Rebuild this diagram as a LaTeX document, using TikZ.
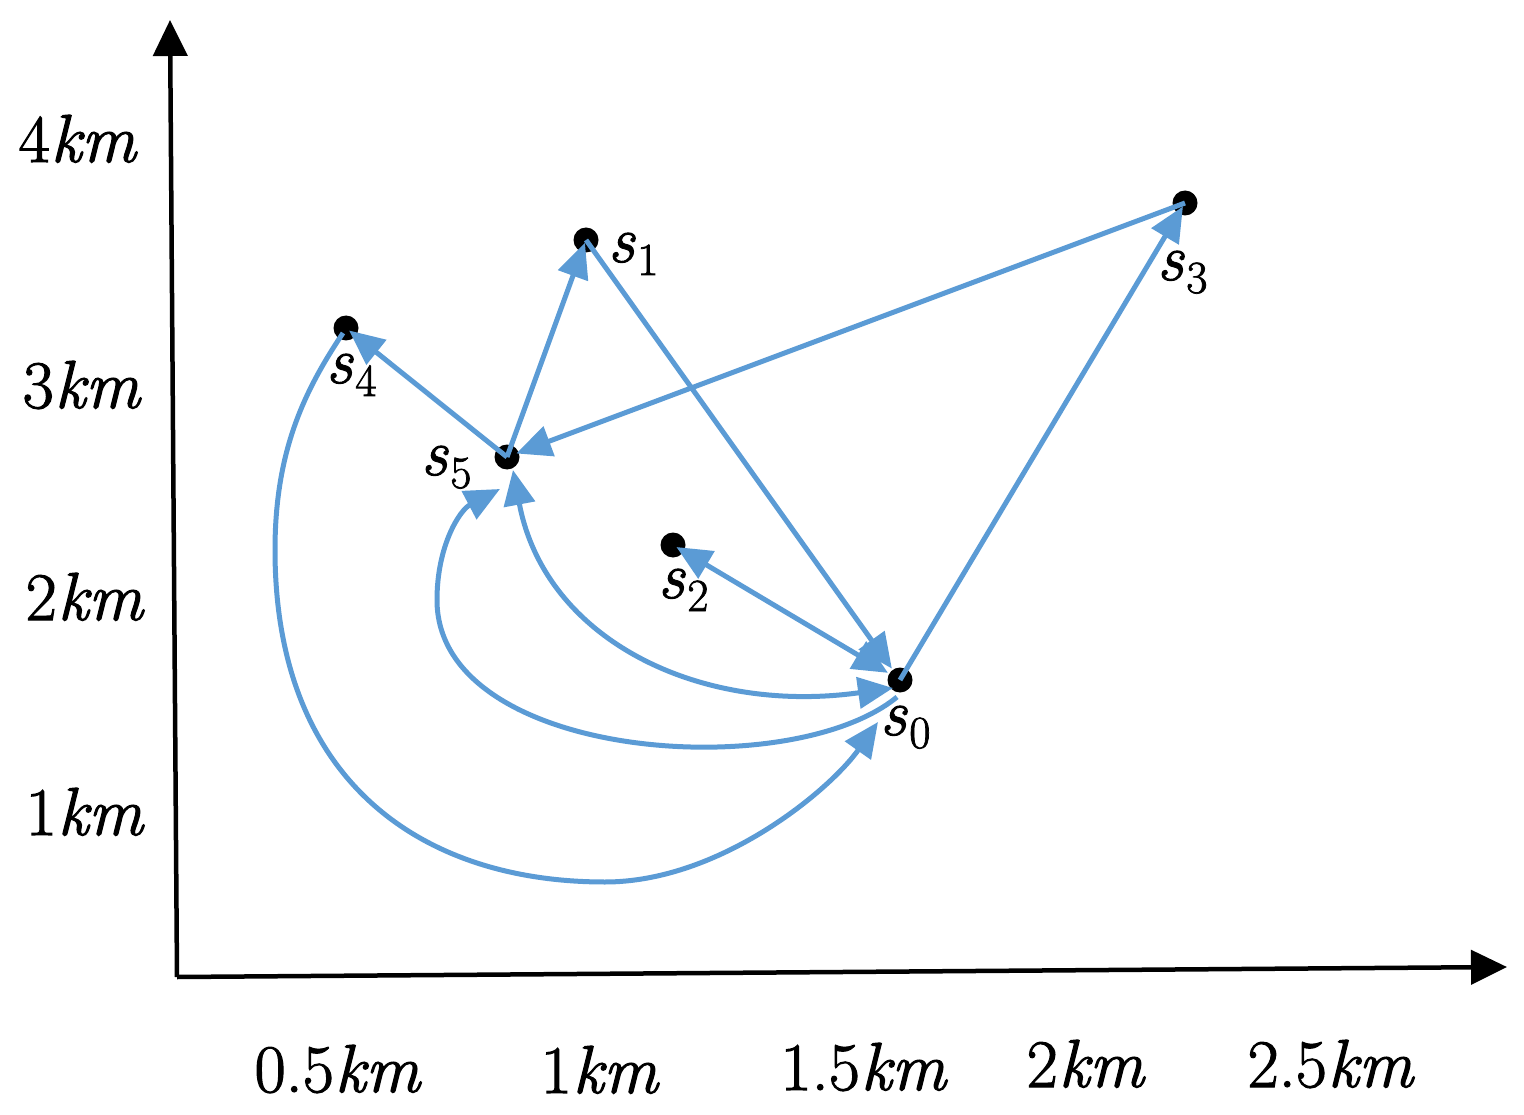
\documentclass[tikz,border=0pt]{standalone}
\usepackage{fontspec}
\newfontfamily\heavy{Latin Modern Roman}[FakeBold=1.6]
\usetikzlibrary{arrows.meta}
\definecolor{eblue}{RGB}{91,155,213}
\newcommand{\sname}[1]{\textit{s}\kern2pt\raisebox{-13pt}{\fontsize{46}{50}\selectfont #1}}
\newcommand{\kmlbl}[1]{#1\kern1pt\textit{km}}
\begin{document}
\begin{tikzpicture}[x=1pt,y=-1pt,
  dot/.style={circle,fill=black,minimum size=25pt,inner sep=0pt},
  lbl/.style={font=\heavy\fontsize{68}{72}\selectfont,inner sep=0pt},
  slbl/.style={font=\heavy\fontsize{66}{70}\selectfont,inner sep=0pt,anchor=base west},
  edge/.style={draw=eblue,line width=5pt,-{Triangle[length=35pt,width=31pt]}},
  bedge/.style={draw=eblue,line width=5pt,{Triangle[length=35pt,width=31pt]}-{Triangle[length=35pt,width=31pt]}},
  axis/.style={line width=4.5pt,-{Triangle[length=36pt,width=34pt]}}]
\useasboundingbox (0,0) rectangle (1524,1115);
% axes
\coordinate (O) at (177,977);
\coordinate (ytop) at (170,20);
\coordinate (xend) at (1507,967);
\draw[axis] (O) -- (ytop);
\draw[axis] (O) -- (xend);
% axis labels
\node[lbl,anchor=base] (y4) at (78,162) {\kmlbl{4}};
\node[lbl,anchor=base] (y3) at (82,408) {\kmlbl{3}};
\node[lbl,anchor=base] (y2) at (85,620) {\kmlbl{2}};
\node[lbl,anchor=base] (y1) at (85,835) {\kmlbl{1}};
\node[lbl,anchor=base] (x05) at (338,1092) {\kmlbl{0.5}};
\node[lbl,anchor=base] (x10) at (600,1093) {\kmlbl{1}};
\node[lbl,anchor=base] (x15) at (864,1090) {\kmlbl{1.5}};
\node[lbl,anchor=base] (x20) at (1086,1087) {\kmlbl{2}};
\node[lbl,anchor=base] (x25) at (1331,1087) {\kmlbl{2.5}};
% nodes
\node[dot] (s0) at (900,680) {};
\node[dot] (s1) at (586,240) {};
\node[dot] (s2) at (673,545) {};
\node[dot] (s3) at (1185,203) {};
\node[dot] (s4) at (346,328) {};
\node[dot] (s5) at (507,457) {};
% node labels
\node[slbl] (l0) at (880,735) {\sname{0}};
\node[slbl] (l1) at (608,262) {\sname{1}};
\node[slbl] (l2) at (658,598) {\sname{2}};
\node[slbl] (l3) at (1157,280) {\sname{3}};
\node[slbl] (l4) at (326,383) {\sname{4}};
\node[slbl] (l5) at (421,475) {\sname{5}};
% straight connectors
\draw[edge,shorten >=3pt] (s5.center) -- (s1.center);
\draw[edge,shorten >=14pt] (s1.center) -- (s0.center);
\draw[edge,shorten >=4pt] (s0.center) -- (s3.center);
\draw[edge,shorten >=10pt] (s3.center) -- (s5.center);
\draw[edge,shorten >=4pt] (s5.center) -- (s4.center);
\draw[bedge,shorten >=14pt,shorten <=4pt] (s2.center) -- (s0.center);
% curved connectors
\draw[bedge] ([shift={(6,13)}]s5.center) .. controls (545,640) and (700,715) .. ([shift={(-7,8)}]s0.center);
\draw[edge] ([shift={(-3,17)}]s0.center) .. controls (790,785) and (437,760) .. (437,600)
  .. controls (437,545) and (460,510) .. ([shift={(-7,32)}]s5.center);
\draw[edge] ([shift={(-3,5)}]s4.center) .. controls (305,390) and (275,450) .. (275,550)
  .. controls (275,780) and (420,882) .. (605,882)
  .. controls (720,882) and (830,790) .. ([shift={(-22,42)}]s0.center);
\end{tikzpicture}
\end{document}
